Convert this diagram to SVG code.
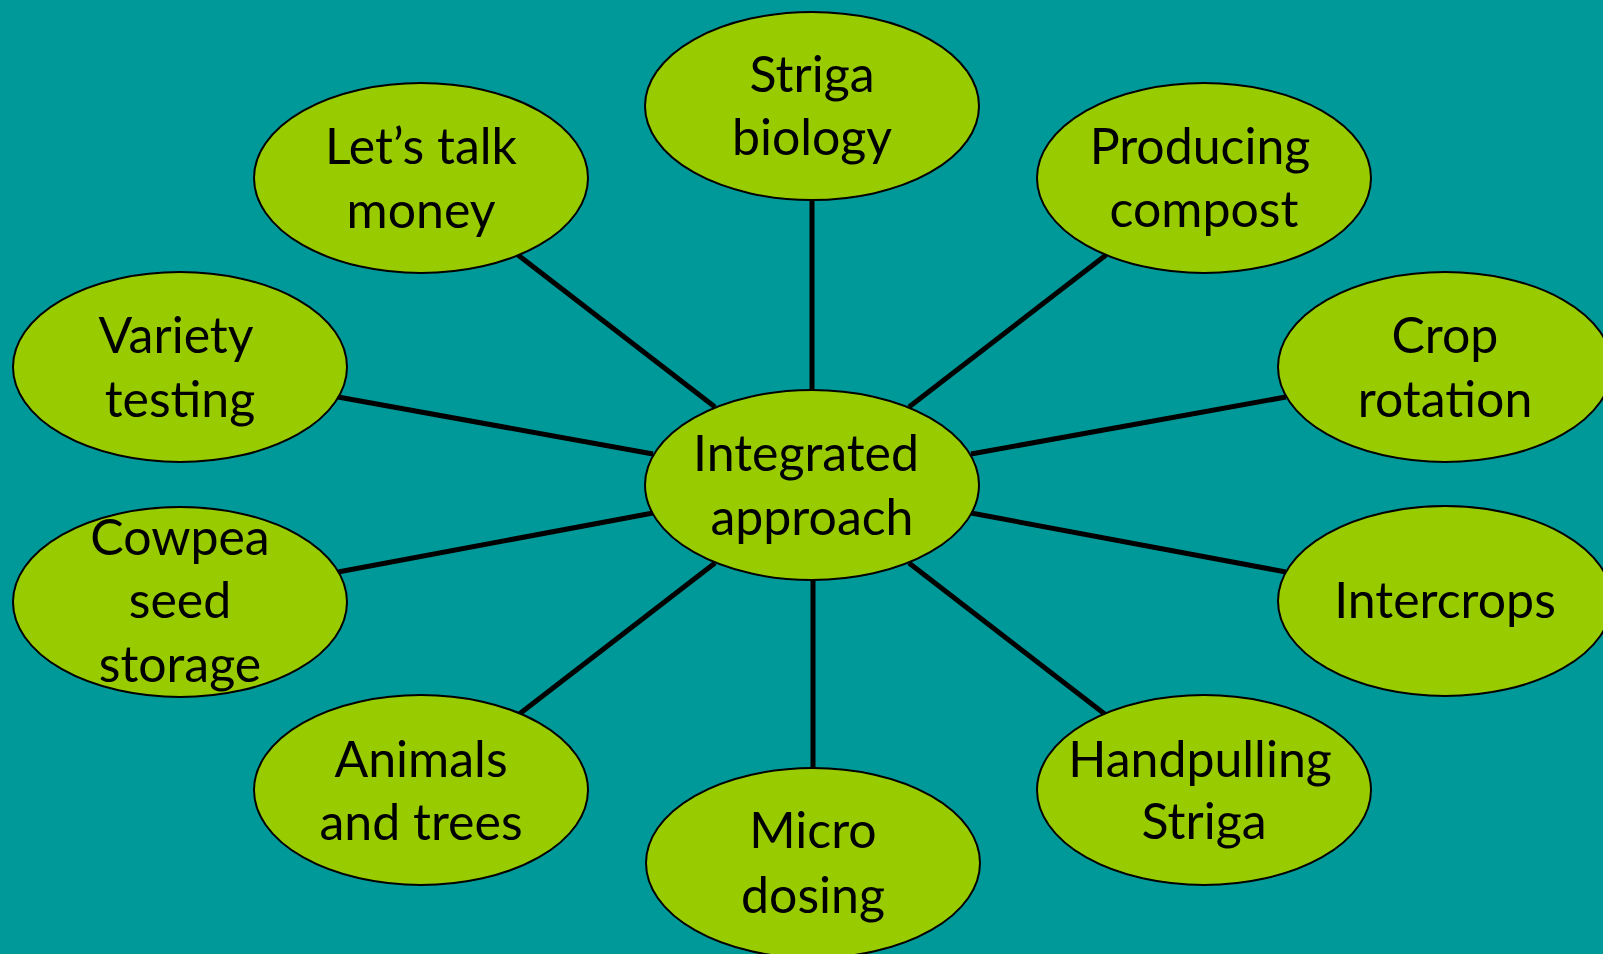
<svg xmlns="http://www.w3.org/2000/svg" width="1603" height="954" viewBox="0 0 1603 954">
  <style>
    .bg { fill: #009999; }
    .node ellipse { fill: #99CC00; stroke: #000000; stroke-width: 2; }
    .node text { font-family: Lato, "Liberation Sans", sans-serif; font-size: 50px; fill: #000000; text-anchor: middle; }
    .edges line { stroke: #000000; stroke-width: 5; stroke-linecap: butt; }
  </style>

  <rect class="bg" x="0" y="0" width="1603" height="954"/>

  <!-- spokes from the hub to each topic -->
  <g id="edges" class="edges">
    <line x1="812" y1="200" x2="812" y2="390"/>
    <line x1="813" y1="579" x2="813" y2="768"/>
    <line x1="518" y1="255" x2="715" y2="407"/>
    <line x1="1106" y1="255" x2="909" y2="407"/>
    <line x1="338" y1="397" x2="653" y2="454"/>
    <line x1="1286" y1="397" x2="971" y2="454"/>
    <line x1="338" y1="572" x2="653" y2="513"/>
    <line x1="1286" y1="572" x2="971" y2="513"/>
    <line x1="518" y1="715" x2="715" y2="563"/>
    <line x1="1106" y1="715" x2="909" y2="563"/>
  </g>

  <g id="hub" class="node">
    <ellipse cx="812" cy="485" rx="167" ry="95"/>
    <text x="806" y="471">Integrated</text>
    <text x="812" y="535">approach</text>
  </g>

  <g id="striga-biology" class="node">
    <ellipse cx="812" cy="106" rx="167" ry="94"/>
    <text x="812" y="92">Striga</text>
    <text x="812" y="155">biology</text>
  </g>

  <g id="producing-compost" class="node">
    <ellipse cx="1204" cy="178" rx="167" ry="95"/>
    <text x="1200" y="164">Producing</text>
    <text x="1204" y="227">compost</text>
  </g>

  <g id="crop-rotation" class="node">
    <ellipse cx="1445" cy="367" rx="167" ry="95"/>
    <text x="1445" y="353">Crop</text>
    <text x="1445" y="417">rotation</text>
  </g>

  <g id="intercrops" class="node">
    <ellipse cx="1445" cy="601" rx="167" ry="95"/>
    <text x="1445" y="618">Intercrops</text>
  </g>

  <g id="handpulling-striga" class="node">
    <ellipse cx="1204" cy="790" rx="167" ry="95"/>
    <text x="1200" y="777">Handpulling</text>
    <text x="1204" y="839">Striga</text>
  </g>

  <g id="micro-dosing" class="node">
    <ellipse cx="813" cy="863" rx="167" ry="95"/>
    <text x="813" y="848">Micro</text>
    <text x="813" y="913">dosing</text>
  </g>

  <g id="animals-and-trees" class="node">
    <ellipse cx="421" cy="790" rx="167" ry="95"/>
    <text x="421" y="777">Animals</text>
    <text x="421" y="840">and trees</text>
  </g>

  <g id="cowpea-seed-storage" class="node">
    <ellipse cx="180" cy="602" rx="167" ry="95"/>
    <text x="180" y="555">Cowpea</text>
    <text x="180" y="618">seed</text>
    <text x="180" y="682">storage</text>
  </g>

  <g id="variety-testing" class="node">
    <ellipse cx="180" cy="367" rx="167" ry="95"/>
    <text x="176" y="353">Variety</text>
    <text x="180" y="417">testing</text>
  </g>

  <g id="lets-talk-money" class="node">
    <ellipse cx="421" cy="178" rx="167" ry="95"/>
    <text x="421" y="164">Let’s talk</text>
    <text x="421" y="228">money</text>
  </g>
</svg>
